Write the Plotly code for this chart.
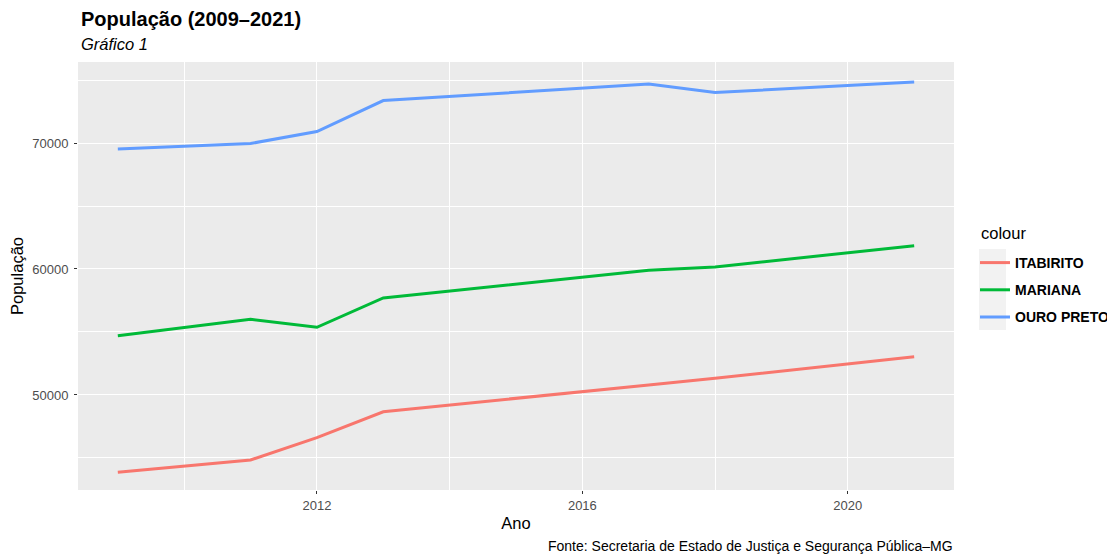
import plotly.graph_objects as go

anos = [2009, 2011, 2012, 2013, 2017, 2018, 2021]
itabirito = [43860, 44840, 46610, 48670, 50800, 51320, 53040]
mariana = [54700, 56000, 55370, 57700, 59900, 60160, 61850]
ouro_preto = [69520, 69960, 70910, 73370, 74680, 74010, 74840]

series = [("ITABIRITO", itabirito, "#F8766D"),
          ("MARIANA", mariana, "#00BA38"),
          ("OURO PRETO", ouro_preto, "#619CFF")]

FONT = "Liberation Sans, Arial, sans-serif"
W, H = 1107, 554
L, R, T, B = 78, 153, 62, 64
pw, ph = W - L - R, H - T - B

def px_x(p):
    return (p - L) / pw

def px_y(p):
    return (H - B - p) / ph

fig = go.Figure()
for name, vals, col in series:
    fig.add_trace(go.Scatter(x=anos, y=vals, mode="lines", name=name,
                             legendgroup=name,
                             line=dict(color=col, width=3)))

fig.update_layout(
    width=W, height=H,
    margin=dict(l=L, r=R, t=T, b=B, autoexpand=False),
    paper_bgcolor="white",
    plot_bgcolor="#EBEBEB",
    font=dict(family=FONT, color="black"),
    showlegend=True,
    legend=dict(
        font=dict(size=14, color="black", family=FONT, weight="bold"),
        x=px_x(975), xanchor="left", y=px_y(247), yanchor="top",
        bgcolor="rgba(0,0,0,0)", tracegroupgap=6, itemwidth=30,
    ),
    xaxis=dict(
        range=[2008.4, 2021.6], automargin=False,
        tickvals=[2012, 2016, 2020],
        showgrid=True, gridcolor="white", gridwidth=1.4,
        minor=dict(tickvals=[2010, 2014, 2018], showgrid=True,
                   gridcolor="white", gridwidth=0.7),
        ticks="outside", ticklen=3, tickcolor="#333333", tickwidth=1,
        tickfont=dict(size=13, color="#4D4D4D"),
        zeroline=False, showline=False,
        title=dict(text="Ano", font=dict(size=16.5, color="black"), standoff=5),
    ),
    yaxis=dict(
        range=[42457, 76430], automargin=False,
        tickvals=[50000, 60000, 70000],
        ticktext=["50000", "60000", "70000"],
        showgrid=True, gridcolor="white", gridwidth=1.4,
        minor=dict(tickvals=[45000, 55000, 65000, 75000], showgrid=True,
                   gridcolor="white", gridwidth=0.7),
        ticks="outside", ticklen=3, tickcolor="#333333", tickwidth=1,
        tickfont=dict(size=13, color="#4D4D4D"), ticklabelstandoff=3,
        zeroline=False, showline=False,
        title=dict(text="População", font=dict(size=16.5, color="black"), standoff=4),
    ),
)

# legend key background (ggplot-style)
fig.add_shape(type="rect", xref="paper", yref="paper",
              x0=px_x(979), x1=px_x(1006), y0=px_y(330), y1=px_y(249),
              fillcolor="#F2F2F2", line=dict(width=0), layer="below")

fig.add_annotation(text="colour", xref="paper", yref="paper",
                   x=px_x(979), y=px_y(233), xanchor="left", yanchor="middle",
                   showarrow=False, font=dict(size=16.5, color="black", family=FONT))
fig.add_annotation(text="<b>População (2009–2021)</b>", xref="paper", yref="paper",
                   x=px_x(79), y=px_y(6), xanchor="left", yanchor="top",
                   showarrow=False, font=dict(size=20, color="black", family=FONT))
fig.add_annotation(text="<i>Gráfico 1</i>", xref="paper", yref="paper",
                   x=px_x(79), y=px_y(33), xanchor="left", yanchor="top",
                   showarrow=False, font=dict(size=16.5, color="black", family=FONT))
fig.add_annotation(text="Fonte: Secretaria de Estado de Justiça e Segurança Pública–MG",
                   xref="paper", yref="paper",
                   x=px_x(955), y=px_y(536), xanchor="right", yanchor="top",
                   showarrow=False, font=dict(size=14, color="black", family=FONT))

fig.write_html("out.html", config={"displayModeBar": False},
               post_script="document.body.style.margin='0';document.body.style.overflow='hidden';")
